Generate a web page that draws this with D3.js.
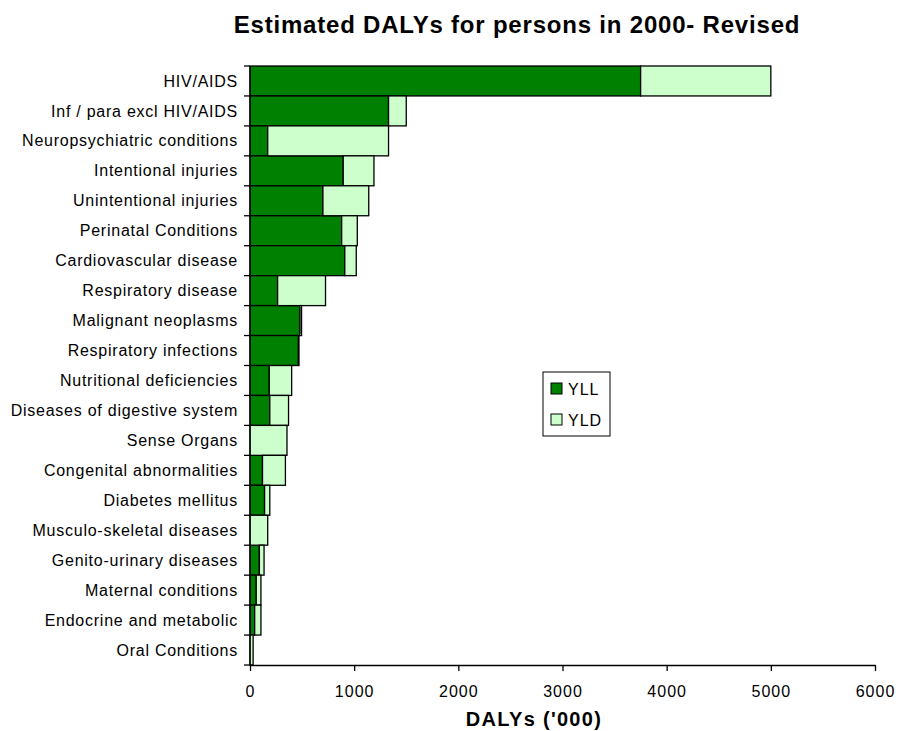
<!DOCTYPE html>
<html>
<head>
<meta charset="utf-8">
<script src="https://cdn.jsdelivr.net/npm/d3@7"></script>
<style>
  html, body { margin: 0; padding: 0; background: #fff; }
  svg { display: block; font-family: "Liberation Sans", Arial, sans-serif; }
</style>
</head>
<body>
<svg id="chart" width="900" height="731"></svg>
<script>
// Causes of disease burden, ordered by total DALYs
const categories = [
  "HIV/AIDS",
  "Inf / para excl HIV/AIDS",
  "Neuropsychiatric conditions",
  "Intentional injuries",
  "Unintentional injuries",
  "Perinatal Conditions",
  "Cardiovascular disease",
  "Respiratory disease",
  "Malignant neoplasms",
  "Respiratory infections",
  "Nutritional deficiencies",
  "Diseases of digestive system",
  "Sense Organs",
  "Congenital abnormalities",
  "Diabetes mellitus",
  "Musculo-skeletal diseases",
  "Genito-urinary diseases",
  "Maternal conditions",
  "Endocrine and metabolic",
  "Oral Conditions"
];

// Years of life lost ('000)
const yll = [3750, 1330, 170, 895, 700, 880, 910, 265, 480, 465,
             185, 190, 0, 120, 140, 0, 90, 60, 45, 0];

// Years lived with disability ('000)
const yld = [1250, 170, 1160, 295, 440, 150, 110, 460, 15, 5,
             215, 180, 355, 220, 50, 170, 45, 45, 60, 30];

const seriesNames = ["YLL", "YLD"];
const xTicks = [0, 1000, 2000, 3000, 4000, 5000, 6000];

const colors = { YLL: "#008000", YLD: "#CCFFCC" };

const svg = d3.select("#chart");
const margin = { left: 250, right: 25, top: 66, bottom: 66 };
const W = 900, H = 731;

const rows = categories.map((c, i) => ({ category: c, YLL: yll[i], YLD: yld[i] }));
const stacked = d3.stack().keys(seriesNames)(rows);

const x = d3.scaleLinear()
  .domain([0, 6000])
  .range([margin.left, W - margin.right]);

const y = d3.scaleBand()
  .domain(categories)
  .range([margin.top, H - margin.bottom])
  .padding(0);

// Title
svg.append("text")
  .attr("x", 517)
  .attr("y", 33)
  .attr("text-anchor", "middle")
  .attr("font-size", 24)
  .attr("font-weight", "bold")
  .attr("letter-spacing", 0.8)
  .text("Estimated DALYs for persons in 2000- Revised");

// Stacked bars
svg.append("g")
  .selectAll("g")
  .data(stacked)
  .join("g")
  .attr("fill", d => colors[d.key])
  .selectAll("rect")
  .data(d => d)
  .join("rect")
  .attr("x", d => x(d[0]))
  .attr("y", d => y(d.data.category))
  .attr("width", d => Math.max(0, x(d[1]) - x(d[0])))
  .attr("height", y.bandwidth())
  .attr("stroke", "#000")
  .attr("stroke-width", 1.3);

// X axis
const xAxis = svg.append("g")
  .attr("transform", `translate(0,${H - margin.bottom})`)
  .call(d3.axisBottom(x).tickValues(xTicks).tickFormat(d3.format("d")).tickSize(6).tickSizeOuter(0));
xAxis.select(".domain").attr("stroke", "#000").attr("stroke-width", 1.3);
xAxis.selectAll(".tick line").attr("stroke", "#000").attr("stroke-width", 1.3);
xAxis.selectAll(".tick text")
  .attr("font-size", 16)
  .attr("font-family", "Liberation Sans, Arial, sans-serif")
  .attr("letter-spacing", 1)
  .attr("fill", "#000")
  .attr("y", 0)
  .attr("dy", 32);

// Y axis: ticks between categories, labels centred on each band
const yAxisG = svg.append("g");
yAxisG.append("line")
  .attr("x1", x(0)).attr("x2", x(0))
  .attr("y1", margin.top).attr("y2", H - margin.bottom)
  .attr("stroke", "#000").attr("stroke-width", 1.3);
const boundaries = categories.map(c => y(c)).concat([H - margin.bottom]);
yAxisG.selectAll("line.tick")
  .data(boundaries)
  .join("line")
  .attr("class", "tick")
  .attr("x1", x(0) - 6).attr("x2", x(0))
  .attr("y1", d => d).attr("y2", d => d)
  .attr("stroke", "#000").attr("stroke-width", 1.3);
yAxisG.selectAll("text")
  .data(categories)
  .join("text")
  .attr("x", x(0) - 12)
  .attr("y", d => y(d) + y.bandwidth() / 2)
  .attr("dy", "0.35em")
  .attr("text-anchor", "end")
  .attr("font-size", 16)
  .attr("letter-spacing", 0.75)
  .text(d => d);

// X axis title
svg.append("text")
  .attr("x", 534)
  .attr("y", 726)
  .attr("text-anchor", "middle")
  .attr("font-size", 20)
  .attr("font-weight", "bold")
  .attr("letter-spacing", 1.3)
  .text("DALYs ('000)");

// Legend
const legend = svg.append("g").attr("transform", "translate(543,372)");
legend.append("rect")
  .attr("width", 67).attr("height", 64)
  .attr("fill", "#fff").attr("stroke", "#000").attr("stroke-width", 1);
seriesNames.forEach((k, i) => {
  legend.append("rect")
    .attr("x", 8).attr("y", 11 + i * 31)
    .attr("width", 11).attr("height", 11)
    .attr("fill", colors[k]).attr("stroke", "#000").attr("stroke-width", 1);
  legend.append("text")
    .attr("x", 25).attr("y", 17 + i * 31)
    .attr("dy", "0.35em")
    .attr("font-size", 16)
    .attr("letter-spacing", 1)
    .text(k);
});
</script>
</body>
</html>
